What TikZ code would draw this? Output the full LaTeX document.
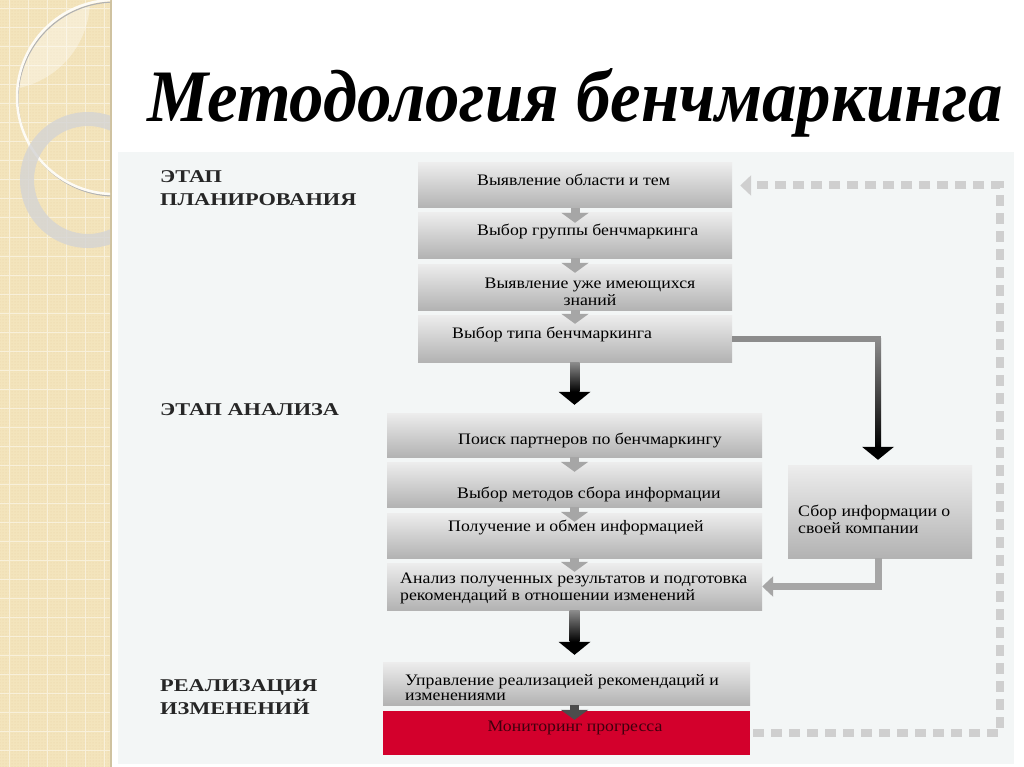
\documentclass[tikz,border=0pt]{standalone}
\usepackage{fontspec}
\setmainfont{Liberation Serif}
\newfontfamily\titlefont[FakeStretch=0.93]{Liberation Serif}
\newfontfamily\stagefont[FakeStretch=1.24]{Liberation Serif}
\newfontfamily\boxfont[FakeStretch=1.11]{Liberation Serif}
\usetikzlibrary{calc,patterns,arrows.meta}
\definecolor{stripbeige}{HTML}{F3E4BC}
\definecolor{panelbg}{HTML}{F3F6F6}
\definecolor{monitorred}{HTML}{D3002C}
\definecolor{dashgray}{HTML}{CFCFCF}
\definecolor{linkgray}{HTML}{A6A6A6}
\def\shadedarrow[#1](#2)(#3){\shade[top color=black!45, bottom color=black] ($(#2)+(-#1,0)$) rectangle ($(#3)+(#1,-13)$);
	\fill[black] ($(#3)+(-16,-13)$) -- ($(#3)+(16,-13)$) -- (#3) -- cycle;}
\tikzset{
	stepbox/.style={rectangle, inner sep=0pt, top color=black!7, middle color=black!2, bottom color=black!30},
	boxtext/.style={font=\boxfont\fontsize{16}{17}\selectfont, inner sep=0pt, anchor=west, align=left},
	stagetext/.style={font=\stagefont\bfseries\fontsize{18}{22.5}\selectfont, text=black!85, inner sep=0pt, anchor=west, align=left},
	smallarrow/.style={draw=linkgray, line width=9pt, -{Triangle[width=27pt,length=10pt]}}
}
\begin{document}
\begin{tikzpicture}[x=1pt,y=-1pt]
			%%%%% FRAME %%%%%
			\useasboundingbox (0,0) rectangle (1024,767);
			\fill[white] (0,0) rectangle (1024,767);
			
			\fill[stripbeige] (0,0) rectangle (111,767);
			\fill[pattern=dots, pattern color=stripbeige!80!brown] (0,0) rectangle (111,767);
			\foreach \gx in {9,28,...,110}
				\draw[white!45!stripbeige, line width=1pt] (\gx,0) -- (\gx,767);
			\foreach \gy in {9,28,...,767}
				\draw[white!45!stripbeige, line width=1pt] (0,\gy) -- (111,\gy);
			\draw[stripbeige!85!black, line width=1.5pt] (111,0) -- (111,767);
			\begin{scope}
				\clip (0,0) rectangle (110,767);
				\begin{scope}
					\clip (114,97) circle (97pt);
					\fill[white, opacity=0.35] (0,0) circle (90pt);
				\end{scope}
				\draw[black!30, line width=1.2pt] (115,99) circle (97pt);
				\draw[white!85!stripbeige, line width=2.5pt] (114,97) circle (97pt);
				\fill[black!17, opacity=0.8, even odd rule] (88,180) circle (68pt) (88,180) circle (54pt);
			\end{scope}
			
			\fill[panelbg] (118,152) rectangle (1014,764);
			
			%%%%% TITLE %%%%%
			\node[font=\titlefont\bfseries\itshape\fontsize{74}{80}\selectfont, anchor=base] (title) at (575,122) {Методология бенчмаркинга};
			
			%%%%% STAGES %%%%%
			\node[stagetext] (s1) at (160,188) {ЭТАП\\ПЛАНИРОВАНИЯ};
			\node[stagetext] (s2) at (160,410) {ЭТАП АНАЛИЗА};
			\node[stagetext] (s3) at (160,697) {РЕАЛИЗАЦИЯ\\ИЗМЕНЕНИЙ};
			
			%%%%% BOXES %%%%%
			\node[stepbox, minimum width=314, minimum height=45] (b1) at (575,185.5) {};
			\node[stepbox, minimum width=314, minimum height=45] (b2) at (575,235.5) {};
			\node[stepbox, minimum width=314, minimum height=46] (b3) at (575,287) {};
			\node[stepbox, minimum width=314, minimum height=47] (b4) at (575,338.5) {};
			
			\node[stepbox, minimum width=375, minimum height=44] (b5) at (574.5,435) {};
			\node[stepbox, minimum width=375, minimum height=45] (b6) at (574.5,484.5) {};
			\node[stepbox, minimum width=375, minimum height=45] (b7) at (574.5,535.5) {};
			\node[stepbox, minimum width=375, minimum height=47] (b8) at (574.5,586.5) {};
			
			\node[stepbox, minimum width=184, minimum height=93] (b9) at (880,511.5) {};
			
			\node[stepbox, minimum width=367, minimum height=43] (b10) at (566.5,683.5) {};
			\node[rectangle, inner sep=0pt, fill=monitorred, minimum width=367, minimum height=44] (b11) at (566.5,733) {};
			
			%%%%% SMALL ARROWS %%%%%
			\draw[smallarrow] (b1.south) -- ($(b2.north)+(0,10)$);
			\draw[smallarrow] (b2.south) -- ($(b3.north)+(0,9)$);
			\draw[smallarrow] (b3.south) -- ($(b4.north)+(0,9)$);
			\draw[smallarrow] (b5.south) -- ($(b6.north)+(0,10)$);
			\draw[smallarrow] (b6.south) -- ($(b7.north)+(0,9)$);
			\draw[smallarrow] (b7.south) -- ($(b8.north)+(0,9)$);
			\draw[smallarrow, draw=black!70] (b10.south -| b8.south) -- ($(b11.north -| b8.south)+(0,9)$);
			
			%%%%% TEXTS %%%%%
			\node[boxtext] (t1) at (477,180) {Выявление области и тем};
			\node[boxtext] (t2) at (477,232) {Выбор группы бенчмаркинга};
			\node[boxtext, anchor=center, align=center] (t3) at (590,291.5) {Выявление уже имеющихся\\знаний};
			\node[boxtext] (t4) at (452,334) {Выбор типа бенчмаркинга};
			\node[boxtext] (t5) at (458,440) {Поиск партнеров по бенчмаркингу};
			\node[boxtext] (t6) at (457,494) {Выбор методов сбора информации};
			\node[boxtext] (t7) at (448,527) {Получение и обмен информацией};
			\node[boxtext] (t8) at (400,588.5) {Анализ полученных результатов и подготовка\\рекомендаций в отношении изменений};
			\node[boxtext] (t9) at (798,519) {Сбор информации о\\своей компании};
			\node[boxtext, font=\boxfont\fontsize{16}{15}\selectfont] (t10) at (405,687.5) {Управление реализацией рекомендаций и\\изменениями};
			\node[boxtext, anchor=center, text=monitorred!30!black] (t11) at (575,728) {Мониторинг прогресса};
			
			%%%%% BIG ARROWS %%%%%
			\coordinate (a45) at ($(b5.north)+(0,-8)$);
			\shadedarrow[5](b4.south)(a45);
			\coordinate (a810) at ($(b8.south |- b10.north)+(0,-7)$);
			\shadedarrow[5](b8.south)(a810);
			
			\coordinate (turn) at ($(b9.north |- b4.east)+(-2,0)$);
			\draw[black!45, line width=6pt] (b4.east) -- ($(turn)+(3,0)$);
			\coordinate (a49) at ($(b9.north)+(-2,-5)$);
			\shadedarrow[3](turn)(a49);
			
			\draw[linkgray, line width=7pt, line join=miter, -{Triangle[width=20pt,length=11pt]}] ($(b9.south)+(-2,0)$) |- (b8.east);
			
			%%%%% FEEDBACK %%%%%
			\coordinate (fbbot) at (1000,733);
			\coordinate (fbtop) at (1000,185.5);
			\draw[dashgray, line width=8pt, dash pattern=on 11pt off 7pt, -{Triangle[width=20pt,length=11pt]}] ($(b11.east)+(3,0)$) -- (fbbot) -- (fbtop) -- ($(b1.east)+(8,0)$);
			
\end{tikzpicture}
\end{document}
